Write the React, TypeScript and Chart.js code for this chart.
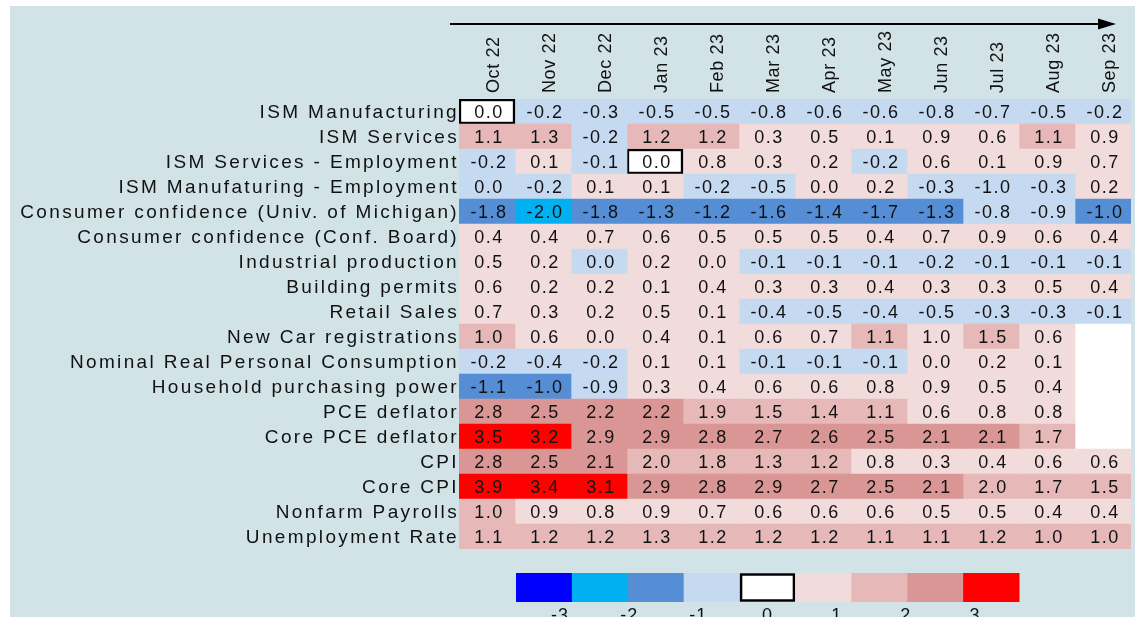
import React, { useEffect, useRef } from 'react';
import { Chart, registerables } from 'chart.js';

Chart.register(...registerables);

// ---------- data ----------
const months = ['Oct 22', 'Nov 22', 'Dec 22', 'Jan 23', 'Feb 23', 'Mar 23', 'Apr 23', 'May 23', 'Jun 23', 'Jul 23', 'Aug 23', 'Sep 23'];

const indicators = [
  'ISM Manufacturing',
  'ISM Services',
  'ISM Services - Employment',
  'ISM Manufaturing - Employment',
  'Consumer confidence (Univ. of Michigan)',
  'Consumer confidence (Conf. Board)',
  'Industrial production',
  'Building permits',
  'Retail Sales',
  'New Car registrations',
  'Nominal Real Personal Consumption',
  'Household purchasing power',
  'PCE deflator',
  'Core PCE deflator',
  'CPI',
  'Core CPI',
  'Nonfarm Payrolls',
  'Unemployment Rate',
];

const ismManufacturing = [0, -0.2, -0.3, -0.5, -0.5, -0.8, -0.6, -0.6, -0.8, -0.7, -0.5, -0.2];
const ismServices = [1.1, 1.3, -0.2, 1.2, 1.2, 0.3, 0.5, 0.1, 0.9, 0.6, 1.1, 0.9];
const ismServicesEmployment = [-0.2, 0.1, -0.1, 0, 0.8, 0.3, 0.2, -0.2, 0.6, 0.1, 0.9, 0.7];
const ismManufEmployment = [-0.02, -0.2, 0.1, 0.1, -0.2, -0.5, 0.02, 0.2, -0.3, -0.98, -0.3, 0.2];
const confidenceMichigan = [-1.8, -2.02, -1.8, -1.3, -1.2, -1.6, -1.4, -1.7, -1.3, -0.8, -0.9, -1.02];
const confidenceConfBoard = [0.4, 0.4, 0.7, 0.6, 0.5, 0.5, 0.5, 0.4, 0.7, 0.9, 0.6, 0.4];
const industrialProduction = [0.5, 0.2, -0.02, 0.2, 0.02, -0.1, -0.1, -0.1, -0.2, -0.1, -0.1, -0.1];
const buildingPermits = [0.6, 0.2, 0.2, 0.1, 0.4, 0.3, 0.3, 0.4, 0.3, 0.3, 0.5, 0.4];
const retailSales = [0.7, 0.3, 0.2, 0.5, 0.1, -0.4, -0.5, -0.4, -0.5, -0.3, -0.3, -0.1];
const newCarRegistrations = [1.02, 0.6, 0.02, 0.4, 0.1, 0.6, 0.7, 1.1, 0.98, 1.5, 0.6, null];
const nominalRealConsumption = [-0.2, -0.4, -0.2, 0.1, 0.1, -0.1, -0.1, -0.1, 0.02, 0.2, 0.1, null];
const householdPurchasingPower = [-1.1, -1.02, -0.9, 0.3, 0.4, 0.6, 0.6, 0.8, 0.9, 0.5, 0.4, null];
const pceDeflator = [2.8, 2.5, 2.2, 2.2, 1.9, 1.5, 1.4, 1.1, 0.6, 0.8, 0.8, null];
const corePceDeflator = [3.5, 3.2, 2.9, 2.9, 2.8, 2.7, 2.6, 2.5, 2.1, 2.1, 1.7, null];
const cpi = [2.8, 2.5, 2.1, 1.98, 1.8, 1.3, 1.2, 0.8, 0.3, 0.4, 0.6, 0.6];
const coreCpi = [3.9, 3.4, 3.1, 2.9, 2.8, 2.9, 2.7, 2.5, 2.1, 1.98, 1.7, 1.5];
const nonfarmPayrolls = [1.02, 0.9, 0.8, 0.9, 0.7, 0.6, 0.6, 0.6, 0.5, 0.5, 0.4, 0.4];
const unemploymentRate = [1.1, 1.2, 1.2, 1.3, 1.2, 1.2, 1.2, 1.1, 1.1, 1.2, 1.02, 1.02];

const rows: (number | null)[][] = [
  ismManufacturing, ismServices, ismServicesEmployment, ismManufEmployment,
  confidenceMichigan, confidenceConfBoard, industrialProduction, buildingPermits,
  retailSales, newCarRegistrations, nominalRealConsumption, householdPurchasingPower,
  pceDeflator, corePceDeflator, cpi, coreCpi, nonfarmPayrolls, unemploymentRate,
];

const legendLabels = ['-3', '-2', '-1', '0', '1', '2', '3'];

// ---------- styles ----------
const FONT = "'Liberation Sans', Arial, Helvetica, sans-serif";
const PANEL = '#d2e3e8';
const C_BLUE = '#0000ff';
const C_CYAN = '#00b0f0';
const C_MIDBLUE = '#558ed5';
const C_LIGHTBLUE = '#c5d9f1';
const C_WHITE = '#ffffff';
const C_PALE = '#f2dcdb';
const C_PINK = '#e6b9b8';
const C_DARKPINK = '#d99694';
const C_RED = '#ff0000';
const legendColors = [C_BLUE, C_CYAN, C_MIDBLUE, C_LIGHTBLUE, C_WHITE, C_PALE, C_PINK, C_DARKPINK, C_RED];

function colorFor(v: number | null): string {
  if (v === null || v === undefined) return C_WHITE;
  if (v === 0) return C_WHITE;
  if (v <= -3) return C_BLUE;
  if (v <= -2) return C_CYAN;
  if (v <= -1) return C_MIDBLUE;
  if (v < 0) return C_LIGHTBLUE;
  if (v < 1) return C_PALE;
  if (v < 2) return C_PINK;
  if (v < 3) return C_DARKPINK;
  return C_RED;
}

function fmt(v: number): string {
  const r = Math.round(v * 10) / 10;
  return (r === 0 ? 0 : r).toFixed(1);
}

const backgroundPlugin = {
  id: 'panelBackground',
  beforeDraw(chart: any) {
    const ctx = chart.ctx as CanvasRenderingContext2D;
    ctx.save();
    ctx.fillStyle = '#ffffff';
    ctx.fillRect(0, 0, chart.width, chart.height);
    ctx.fillStyle = PANEL;
    ctx.fillRect(10, 6, chart.width - 10, chart.height - 6);
    ctx.restore();
    (ctx as any).letterSpacing = '2.35px';
  },
  beforeDatasetsDraw(chart: any) {
    (chart.ctx as any).letterSpacing = '0px';
  },
};

const overlayPlugin = {
  id: 'overlay',
  afterDraw(chart: any) {
    const ctx = chart.ctx as CanvasRenderingContext2D;
    const xs = chart.scales.x;
    const ys = chart.scales.y;
    ctx.save();
    // cell values
    ctx.fillStyle = '#111111';
    ctx.font = `18px ${FONT}`;
    (ctx as any).letterSpacing = '1.5px';
    ctx.textAlign = 'center';
    ctx.textBaseline = 'middle';
    rows.forEach((row, i) => {
      row.forEach((v, j) => {
        if (v === null) return;
        const x = xs.getPixelForValue(j + 0.5);
        const y = ys.getPixelForValue(i);
        ctx.fillText(fmt(v), x + 2, y + 2);
      });
    });

    // month labels (rotated)
    (ctx as any).letterSpacing = '0.6px';
    ctx.textAlign = 'left';
    ctx.textBaseline = 'middle';
    months.forEach((m, j) => {
      const x = xs.getPixelForValue(j + 0.5);
      ctx.save();
      ctx.translate(x + 7, 93);
      ctx.rotate(-Math.PI / 2);
      ctx.fillText(m, 0, 0);
      ctx.restore();
    });

    // arrow
    ctx.strokeStyle = '#000000';
    ctx.lineWidth = 2;
    ctx.beginPath();
    ctx.moveTo(450, 24);
    ctx.lineTo(1100, 24);
    ctx.stroke();
    ctx.fillStyle = '#000000';
    ctx.beginPath();
    ctx.moveTo(1098, 18.5);
    ctx.lineTo(1116, 24);
    ctx.lineTo(1098, 29.5);
    ctx.closePath();
    ctx.fill();

    // legend swatches
    const lx0 = 516;
    const lx1 = 1019;
    const sw = (lx1 - lx0) / legendColors.length;
    legendColors.forEach((c, k) => {
      const x = lx0 + k * sw;
      ctx.fillStyle = c;
      ctx.fillRect(x, 573, sw + 0.5, 29);
      if (c === C_WHITE) {
        ctx.strokeStyle = '#000000';
        ctx.lineWidth = 2.5;
        ctx.strokeRect(x + 1.5, 574.5, sw - 3, 26);
      }
    });
    // legend labels
    ctx.fillStyle = '#111111';
    ctx.font = `18px ${FONT}`;
    (ctx as any).letterSpacing = '1px';
    ctx.textAlign = 'center';
    ctx.textBaseline = 'alphabetic';
    legendLabels.forEach((t, k) => {
      const x = 560 + k * ((975 - 560) / (legendLabels.length - 1));
      ctx.fillText(t, x, 621);
    });
    ctx.restore();
  },
};

export default function App() {
  const ref = useRef<HTMLCanvasElement>(null);

  useEffect(() => {
    const canvas = ref.current;
    if (!canvas) return;
    const datasets = months.map((m, j) => ({
      label: m,
      data: rows.map(() => [j, j + 1]),
      backgroundColor: (c: any) => colorFor(rows[c.dataIndex]?.[j] ?? null),
      borderColor: '#000000',
      borderWidth: (c: any) => (rows[c.dataIndex]?.[j] === 0 ? 2.5 : 0),
      borderSkipped: false,
      grouped: false,
      barPercentage: 1,
      categoryPercentage: 1,
    }));

    const chart = new Chart(canvas, {
      type: 'bar',
      data: { labels: indicators, datasets: datasets as any },
      options: {
        indexAxis: 'y',
        responsive: false,
        maintainAspectRatio: false,
        devicePixelRatio: 1,
        animation: false,
        events: [],
        layout: { padding: { top: 99, right: 4, bottom: 68, left: 0 } },
        plugins: {
          legend: { display: false },
          tooltip: { enabled: false },
          title: { display: false },
        },
        scales: {
          x: {
            type: 'linear',
            min: 0,
            max: months.length,
            display: false,
          },
          y: {
            type: 'category',
            offset: true,
            grid: { display: false, drawTicks: false },
            border: { display: false },
            ticks: {
              autoSkip: false,
              padding: 0,
              labelOffset: 1,
              color: '#111111',
              font: { family: FONT, size: 19 },
            },
            afterFit: (scale: any) => {
              scale.width = 459;
            },
          },
        },
      } as any,
      plugins: [backgroundPlugin, overlayPlugin],
    });
    return () => chart.destroy();
  }, []);

  return (
    <div style={{ position: 'fixed', left: 0, top: 0, width: 1135, height: 617, background: '#ffffff' }}>
      <canvas ref={ref} width={1135} height={617} style={{ display: 'block', width: 1135, height: 617 }} />
    </div>
  );
}
